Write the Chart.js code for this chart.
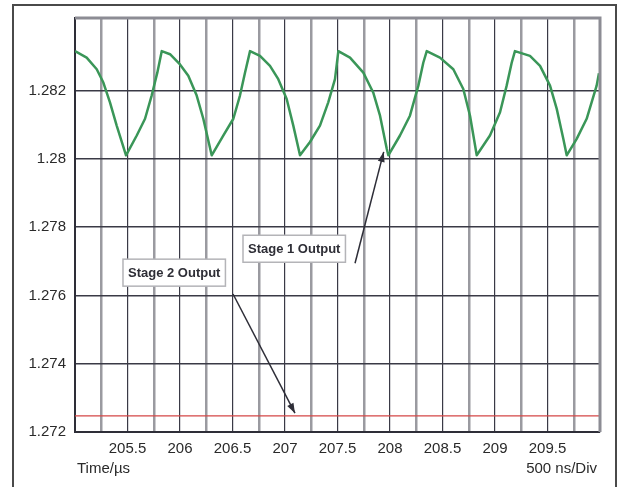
<!DOCTYPE html>
<html>
<head>
<meta charset="utf-8">
<script src="https://cdn.jsdelivr.net/npm/chart.js@4"></script>
<style>
  html, body { margin: 0; padding: 0; background: #fff; }
  #wrap { position: relative; width: 618px; height: 487px; overflow: hidden; }
  #frame {
    position: absolute; left: 12px; top: 4px; width: 605px; height: 600px;
    border: 2px solid #4a4a4a; box-sizing: border-box;
  }
  #chart { position: absolute; left: 0; top: 0; }
</style>
</head>
<body>
<div id="wrap">
  <div id="frame"></div>
  <canvas id="chart" width="618" height="487"></canvas>
</div>
<script>
// Stage 1 output (green): time in µs, voltage in V
const stage1Times = [
  205.000, 205.111, 205.207, 205.270, 205.333, 205.397, 205.486,
  205.588, 205.667, 205.730, 205.784, 205.826,
  205.905, 206.000, 206.079, 206.159, 206.222, 206.302,
  206.412, 206.508, 206.571, 206.619, 206.667,
  206.762, 206.857, 206.936, 207.016, 207.079, 207.143,
  207.238, 207.333, 207.412, 207.476, 207.508,
  207.619, 207.746, 207.840, 207.905, 207.969, 207.984,
  208.095, 208.190, 208.270, 208.317, 208.350,
  208.476, 208.603, 208.698, 208.762, 208.826,
  208.952, 209.048, 209.111, 209.159, 209.190,
  209.333, 209.429, 209.524, 209.588, 209.651, 209.683,
  209.778, 209.873, 209.968, 209.990
];
const stage1Volts = [
  1.28315, 1.28296, 1.28262, 1.28223, 1.28165, 1.28097, 1.28010,
  1.28068, 1.28117, 1.28185, 1.28252, 1.28315,
  1.28306, 1.28276, 1.28243, 1.28185, 1.28117, 1.28010,
  1.28068, 1.28117, 1.28185, 1.28252, 1.28315,
  1.28301, 1.28272, 1.28233, 1.28175, 1.28097, 1.28010,
  1.28049, 1.28097, 1.28165, 1.28233, 1.28315,
  1.28296, 1.28252, 1.28194, 1.28126, 1.28029, 1.28010,
  1.28068, 1.28126, 1.28214, 1.28281, 1.28315,
  1.28296, 1.28262, 1.28204, 1.28126, 1.28010,
  1.28068, 1.28136, 1.28214, 1.28281, 1.28315,
  1.28301, 1.28272, 1.28214, 1.28146, 1.28058, 1.28010,
  1.28058, 1.28117, 1.28214, 1.28250
];

// Stage 2 output (red) is flat
const stage2Times = [205, 210];
const stage2Volts = [1.27247, 1.27247];

const xTickValues = [205.5, 206, 206.5, 207, 207.5, 208, 208.5, 209, 209.5];
const xTickLabels = ['205.5', '206', '206.5', '207', '207.5', '208', '208.5', '209', '209.5'];
const yTickValues = [1.272, 1.274, 1.276, 1.278, 1.28, 1.282];
const yTickLabels = ['1.272', '1.274', '1.276', '1.278', '1.28', '1.282'];

// callouts, anchored in data units
const callouts = [
  { text: 'Stage 1 Output', boxX: 206.60, boxY: 1.27776, fromX: 207.667, fromY: 1.27694, toX: 207.94, toY: 1.2802 },
  { text: 'Stage 2 Output', boxX: 205.457, boxY: 1.27706, fromX: 206.505, fromY: 1.27604, toX: 207.095, toY: 1.27255 }
];

const FONT = '"Liberation Sans", Arial, sans-serif';

function pick(values, labels, v) {
  const i = values.findIndex(t => Math.abs(t - v) < 1e-6);
  return i >= 0 ? labels[i] : '';
}

// draws the frame edges, axis notes and the callouts
const extras = {
  id: 'extras',
  afterDatasetsDraw(chart) {
    const { ctx, chartArea: a, scales: { x, y } } = chart;
    ctx.save();

    // top and right edge of the plot
    ctx.strokeStyle = '#8c8c94';
    ctx.lineWidth = 3;
    ctx.beginPath();
    ctx.moveTo(a.left, a.top);
    ctx.lineTo(a.right, a.top);
    ctx.lineTo(a.right, a.bottom);
    ctx.stroke();

    // axis notes
    ctx.fillStyle = '#2a2a2a';
    ctx.font = '15px ' + FONT;
    ctx.textBaseline = 'middle';
    ctx.textAlign = 'left';
    ctx.fillText('Time/\u00b5s', a.left + 2, a.bottom + 37);
    ctx.textAlign = 'right';
    ctx.fillText('500 ns/Div', a.right - 3, a.bottom + 37);

    callouts.forEach(c => {
      const x0 = x.getPixelForValue(c.fromX), y0 = y.getPixelForValue(c.fromY);
      const x1 = x.getPixelForValue(c.toX), y1 = y.getPixelForValue(c.toY);
      ctx.strokeStyle = '#2e2e38';
      ctx.fillStyle = '#2e2e38';
      ctx.lineWidth = 1.5;
      ctx.beginPath();
      ctx.moveTo(x0, y0);
      ctx.lineTo(x1, y1);
      ctx.stroke();
      const ang = Math.atan2(y1 - y0, x1 - x0);
      ctx.beginPath();
      ctx.moveTo(x1, y1);
      ctx.lineTo(x1 - 10 * Math.cos(ang) + 3.5 * Math.sin(ang), y1 - 10 * Math.sin(ang) - 3.5 * Math.cos(ang));
      ctx.lineTo(x1 - 10 * Math.cos(ang) - 3.5 * Math.sin(ang), y1 - 10 * Math.sin(ang) + 3.5 * Math.cos(ang));
      ctx.closePath();
      ctx.fill();

      ctx.font = 'bold 13px ' + FONT;
      const w = ctx.measureText(c.text).width + 10;
      const h = 27;
      const bx = x.getPixelForValue(c.boxX), by = y.getPixelForValue(c.boxY);
      ctx.fillStyle = '#fff';
      ctx.fillRect(bx, by, w, h);
      ctx.strokeStyle = '#b4b4b8';
      ctx.lineWidth = 1.5;
      ctx.strokeRect(bx, by, w, h);
      ctx.fillStyle = '#2e2e36';
      ctx.textAlign = 'left';
      ctx.textBaseline = 'middle';
      ctx.fillText(c.text, bx + 5, by + h / 2 + 1);
    });
    ctx.restore();
  }
};

new Chart(document.getElementById('chart'), {
  type: 'line',
  data: {
    datasets: [
      {
        label: 'Stage 1 Output',
        data: stage1Times.map((t, i) => ({ x: t, y: stage1Volts[i] })),
        borderColor: 'rgb(58, 150, 88)',
        borderWidth: 2.5,
        borderJoinStyle: 'round',
        pointRadius: 0,
        tension: 0
      },
      {
        label: 'Stage 2 Output',
        data: stage2Times.map((t, i) => ({ x: t, y: stage2Volts[i] })),
        borderColor: 'rgb(212, 70, 70)',
        borderWidth: 1.2,
        pointRadius: 0
      }
    ]
  },
  options: {
    responsive: false,
    animation: false,
    layout: { padding: { left: 0, right: 18, top: 15, bottom: 0 } },
    plugins: { legend: { display: false }, tooltip: { enabled: false } },
    scales: {
      x: {
        type: 'linear',
        min: 205,
        max: 210,
        afterFit: s => { s.height = 55; },
        ticks: {
          stepSize: 0.25,
          autoSkip: false,
          maxRotation: 0,
          padding: 8,
          color: '#2a2a2a',
          font: { family: FONT, size: 15 },
          callback: v => pick(xTickValues, xTickLabels, v)
        },
        grid: {
          drawTicks: false,
          color: c => (Math.abs((c.tick.value * 2) % 1) < 1e-6 ? '#3a3a46' : '#9a9aa0'),
          lineWidth: c => (Math.abs((c.tick.value * 2) % 1) < 1e-6 ? 1.2 : 2.5)
        },
        border: { color: '#2e2e38', width: 2 }
      },
      y: {
        min: 1.272,
        max: 1.28412,
        afterFit: s => { s.width = 75; },
        afterBuildTicks: s => { s.ticks = yTickValues.map(v => ({ value: v })); },
        ticks: {
          padding: 9,
          color: '#2a2a2a',
          font: { family: FONT, size: 15 },
          callback: v => pick(yTickValues, yTickLabels, v)
        },
        grid: { drawTicks: false, color: '#3a3a46', lineWidth: 1.5 },
        border: { color: '#2e2e38', width: 2 }
      }
    }
  },
  plugins: [extras]
});
</script>
</body>
</html>
